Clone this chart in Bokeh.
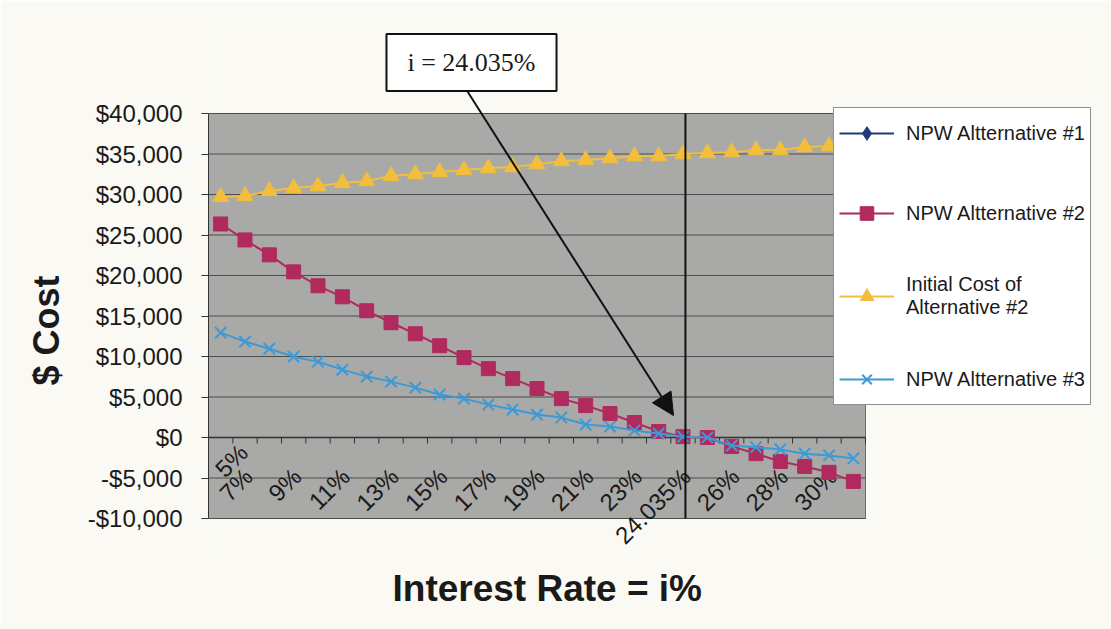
import numpy as np
from bokeh.plotting import figure
from bokeh.models import (Range1d, NumeralTickFormatter, Legend, LegendItem,
                          Label, Arrow, NormalHead, Title)
from bokeh.core.properties import value
from bokeh.embed import file_html
from bokeh.resources import INLINE

# ---------------- data ----------------
categories = ["5%", "6%", "7%", "8%", "9%", "10%", "11%", "12%", "13%", "14%",
              "15%", "16%", "17%", "18%", "19%", "20%", "21%", "22%", "23%", "24%",
              "24.035%", "25%", "26%", "27%", "28%", "29%", "30%"]
tick_labels = categories[::2]

npw_alt1 = [np.nan] * len(categories)  # legend entry only: no visible points in the chart
npw_alt2 = [26360, 24390, 22550, 20450, 18730, 17370, 15650, 14170, 12810, 11330,
            9860, 8500, 7270, 6040, 4800, 3940, 2960, 1850, 740, 100,
            0, -1100, -2000, -2960, -3570, -4300, -5420]
initial_cost_alt2 = [29700, 29820, 30430, 30800, 31040, 31420, 31660, 32280, 32520, 32770,
                     33020, 33260, 33380, 33750, 34120, 34250, 34490, 34740, 34740, 34990,
                     35110, 35230, 35480, 35480, 35850, 35970, 36100]
npw_alt3 = [12940, 11830, 10960, 9980, 9360, 8380, 7520, 6900, 6160, 5300,
            4800, 4060, 3450, 2830, 2460, 1600, 1350, 860, 490, 100,
            0, -1000, -1200, -1480, -2000, -2220, -2590]
y_ticks = list(range(-10000, 40001, 5000))
irr_label = "i = 24.035%"

# ---------------- styles / layout ----------------
PAPER = "#FAF9F3"
PLOT_BG = "#A9A9A7"
GRID = "#4d4d4d"
NAVY = "#1F3B78"
MAROON = "#B02A5E"
YELLOW = "#F2BE3C"
BLUE = "#3C9AD6"
TXT = "#1a1a1a"
FONT = "Liberation Sans"

W, H = 1111, 629
PA_L, PA_T, PA_R, PA_B = 208, 113, 865, 518      # grey plot area (px)
FR_L, FR_T, FR_R, FR_B = 208, 28, 1102, 555      # drawing frame (px)

n = len(categories)
xs = np.arange(n) + 0.5
y_lo, y_hi = y_ticks[0], y_ticks[-1]
ux = (PA_R - PA_L) / n                 # px per category
uy = (y_hi - y_lo) / (PA_B - PA_T)     # value per px

p = figure(width=W, height=H,
           x_range=Range1d(-(PA_L - FR_L) / ux, (FR_R - PA_L) / ux),
           y_range=Range1d(y_lo - (FR_B - PA_B) * uy, y_hi + (PA_T - FR_T) * uy),
           output_backend="svg", toolbar_location=None, x_axis_location=None,
           min_border_left=FR_L, min_border_right=W - FR_R,
           min_border_top=FR_T, min_border_bottom=H - FR_B,
           background_fill_color=PAPER, border_fill_color=PAPER,
           outline_line_color=None)
p.grid.visible = False

# grey plot area + horizontal gridlines
p.quad(left=[0], right=[n], bottom=[y_lo], top=[y_hi], fill_color=PLOT_BG,
       line_color="#6a6a6a", line_width=1)
p.segment(x0=np.zeros(len(y_ticks)), y0=y_ticks, x1=np.full(len(y_ticks), n), y1=y_ticks,
          line_color=GRID, line_width=1)

# y axis
yax = p.yaxis[0]
yax.ticker = y_ticks
yax.bounds = (y_lo, y_hi)
yax.formatter = NumeralTickFormatter(format="$0,0")
yax.major_label_text_font = FONT
yax.major_label_text_font_size = "24px"
yax.major_label_text_color = TXT
yax.major_label_standoff = 19
yax.major_tick_out = 7
yax.major_tick_in = 0
yax.minor_tick_line_color = None
yax.axis_line_color = "#333333"
yax.major_tick_line_color = "#333333"

p.add_layout(Title(text="$ Cost", align="left", offset=170, vertical_align="middle",
                   standoff=34, text_font=FONT, text_font_size="36px",
                   text_font_style="bold", text_color=TXT), "left")
p.add_layout(Title(text="Interest Rate = i%", align="left", offset=392 - FR_L,
                   vertical_align="middle", standoff=23, text_font=FONT,
                   text_font_size="37px", text_font_style="bold", text_color=TXT), "below")

# category axis at y = 0
p.segment(x0=[0], y0=[0], x1=[n], y1=[0], line_color="#333333", line_width=1.5)
bounds = np.arange(n + 1)
p.segment(x0=bounds, y0=np.zeros(n + 1), x1=bounds, y1=np.full(n + 1, -6 * uy),
          line_color="#333333", line_width=1)
lbl_style = dict(angle=np.pi / 4, text_align="right", text_baseline="middle",
                 text_font=value(FONT), text_font_size="24px", text_color=TXT)
p.text(x=xs[2::2], y=np.zeros(len(tick_labels) - 1), text=tick_labels[1:],
       x_offset=-21, y_offset=35, **lbl_style)
# the first label would fall left of the drawing area: nudge it inside
p.text(x=xs[:1], y=[0], text=tick_labels[:1], x_offset=23, y_offset=11, **lbl_style)

# series
l1 = p.line(xs, npw_alt1, line_color=NAVY, line_width=2)
s1 = p.scatter(xs, npw_alt1, marker="diamond", size=15, fill_color=NAVY, line_color=NAVY)

l2 = p.line(xs, npw_alt2, line_color=MAROON, line_width=2)
s2 = p.scatter(xs, npw_alt2, marker="square", size=14, fill_color=MAROON, line_color=MAROON)

l3 = p.line(xs, initial_cost_alt2, line_color=YELLOW, line_width=2)
s3 = p.scatter(xs, initial_cost_alt2, marker="triangle", size=16, fill_color=YELLOW, line_color=YELLOW)

l4 = p.line(xs, npw_alt3, line_color=BLUE, line_width=2)
s4 = p.scatter(xs, npw_alt3, marker="x", size=16, line_color=BLUE, line_width=2)

# vertical marker line where the NPW curves cross zero
xv = categories.index("24%") + 0.6
p.segment(x0=[xv], y0=[y_lo], x1=[xv], y1=[y_hi], line_color="#111111", line_width=2)

# callout (screen units relative to the frame's bottom-left)
p.add_layout(Label(x=471 - FR_L, y=FR_B - 62, x_units="screen", y_units="screen",
                   text=irr_label, text_align="center", text_baseline="middle",
                   text_font="Liberation Serif", text_font_size="26px", text_color=TXT,
                   border_line_color="#111111", border_line_width=2,
                   background_fill_color="#FFFFFF", background_fill_alpha=1,
                   padding=dict(left=21, right=21, top=14, bottom=14)))
p.add_layout(Arrow(x_start=467 - FR_L, y_start=FR_B - 91, x_end=673 - FR_L, y_end=FR_B - 415,
                   start_units="screen", end_units="screen", line_width=2, line_color="#111111",
                   end=NormalHead(size=22, fill_color="#111111", line_color="#111111")))

legend = Legend(items=[
    LegendItem(label="NPW Altternative #1", renderers=[l1, s1]),
    LegendItem(label="NPW Altternative #2", renderers=[l2, s2]),
    LegendItem(label="Initial Cost of\nAlternative #2", renderers=[l3, s3]),
    LegendItem(label="NPW Altternative #3", renderers=[l4, s4]),
], location=(833 - FR_L, FR_B - 405))
legend.label_text_font = FONT
legend.label_text_font_size = "20px"
legend.label_text_color = TXT
legend.glyph_width = 55
legend.glyph_height = 34
legend.label_height = 40
legend.spacing = 40
legend.padding = 5
legend.margin = 0
legend.label_standoff = 12
legend.border_line_color = "#222222"
legend.border_line_width = 1.5
legend.background_fill_color = "#FFFFFF"
legend.background_fill_alpha = 1
p.add_layout(legend)

open("out.html", "w").write(file_html(p, INLINE))
